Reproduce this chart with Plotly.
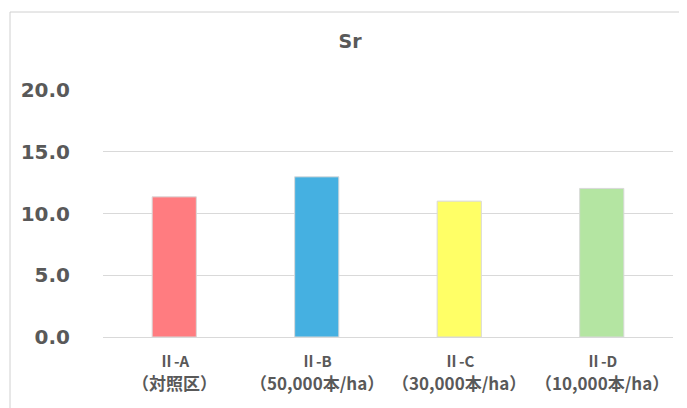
import plotly.graph_objects as go

categories = ["Ⅱ-A", "Ⅱ-B", "Ⅱ-C", "Ⅱ-D"]
sublabels = ["（対照区）", "（50,000本/ha）", "（30,000本/ha）", "（10,000本/ha）"]
values = [11.35, 12.97, 11.0, 12.03]
colors = ["#FF7C80", "#45B0E1", "#FFFF66", "#B4E5A2"]
y_ticks = [0, 5, 10, 15, 20]
y_tick_labels = ["0.0", "5.0", "10.0", "15.0", "20.0"]
title = "Sr"

# page has an 8px body margin; figure is laid out accordingly
W, H = 679, 400
L, R, T, B = 95, 14, 82, 71
pw, ph = W - L - R, H - T - B
GRAY = "#595959"

fig = go.Figure(go.Bar(
    x=categories, y=values, width=0.31,
    marker=dict(color=colors, line=dict(color="#d9d9d9", width=1)),
))

annotations = []
for c, s in zip(categories, sublabels):
    annotations.append(dict(x=c, xref="x", y=-23 / ph, yref="paper", yanchor="middle",
                            text=c, showarrow=False,
                            font=dict(family="Noto Sans CJK JP", size=15, color=GRAY, weight="bold")))
    annotations.append(dict(x=c, xref="x", y=-45.5 / ph, yref="paper", yanchor="middle",
                            text=s, showarrow=False,
                            font=dict(family="Noto Sans CJK JP", size=17, color=GRAY, weight="bold")))

fig.update_layout(
    width=W, height=H,
    margin=dict(l=L, r=R, t=T, b=B),
    paper_bgcolor="white", plot_bgcolor="white",
    showlegend=False,
    title=dict(text=title, x=342 / W, xref="container", xanchor="center",
               y=1 - 33 / H, yref="container", yanchor="middle",
               font=dict(family="DejaVu Sans", size=19, color=GRAY, weight="bold")),
    xaxis=dict(showgrid=False, showline=True, linecolor="#d9d9d9", linewidth=1,
               ticks="", showticklabels=False),
    yaxis=dict(range=[0, 20], tickvals=y_ticks, ticktext=y_tick_labels,
               showgrid=True, gridcolor="#d9d9d9", gridwidth=1, zeroline=False,
               showline=False, ticks="", ticklabelstandoff=32,
               tickfont=dict(family="DejaVu Sans", size=20, color=GRAY, weight="bold")),
    annotations=annotations,
    shapes=[
        dict(type="line", xref="paper", yref="paper",
             x0=(2 - L) / pw, x1=(2 - L) / pw, y0=-(B + 20) / ph, y1=1 + (T - 4) / ph,
             line=dict(color="#d0d0d0", width=1)),
        dict(type="line", xref="paper", yref="paper",
             x0=(2 - L) / pw, x1=(W + 20 - L) / pw, y0=1 + (T - 4) / ph, y1=1 + (T - 4) / ph,
             line=dict(color="#d0d0d0", width=1)),
    ],
)

fig.write_html("out.html")
